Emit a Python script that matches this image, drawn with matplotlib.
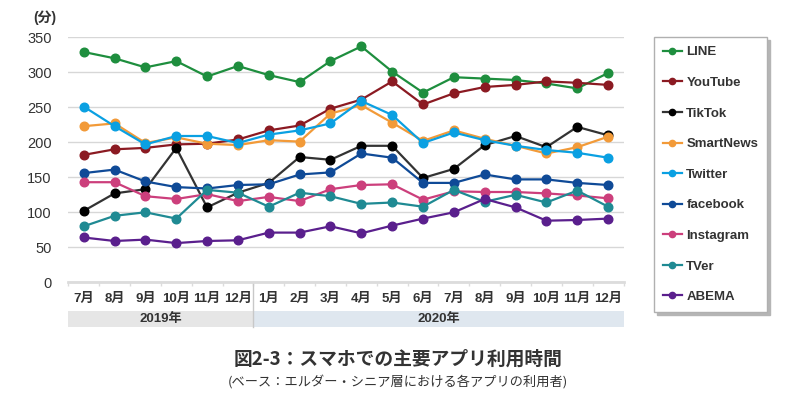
import matplotlib
matplotlib.use("Agg")
import matplotlib.pyplot as plt
import matplotlib.transforms as mtransforms
from matplotlib.patches import Rectangle
from matplotlib.lines import Line2D

plt.rcParams['font.family'] = ['Liberation Sans', 'Noto Sans CJK JP', 'DejaVu Sans']

months = ["7月", "8月", "9月", "10月", "11月", "12月", "1月", "2月", "3月", "4月", "5月", "6月",
          "7月", "8月", "9月", "10月", "11月", "12月"]
years = ["2019年", "2020年"]
year_spans = [(0, 5), (6, 17)]

line_app = [329, 320, 307, 316, 294, 309, 296, 286, 316, 337, 301, 271, 293, 291, 289, 284, 277, 299]
youtube = [182, 190, 192, 197, 198, 204, 217, 224, 248, 261, 287, 254, 270, 279, 282, 287, 285, 282]
tiktok = [102, 127, 133, 192, 107, 128, 142, 179, 175, 195, 195, 149, 162, 196, 209, 193, 222, 210]
smartnews = [223, 227, 199, 207, 198, 196, 203, 201, 241, 253, 228, 202, 217, 205, 195, 184, 193, 208]
twitter = [251, 223, 197, 209, 209, 199, 211, 217, 227, 259, 239, 199, 214, 203, 195, 189, 185, 178]
facebook = [156, 161, 144, 136, 134, 139, 140, 154, 157, 184, 178, 142, 142, 154, 147, 147, 142, 139]
instagram = [143, 143, 123, 119, 126, 116, 122, 116, 133, 139, 140, 118, 130, 129, 129, 127, 124, 120]
tver = [80, 95, 100, 91, 132, 128, 108, 128, 123, 112, 114, 108, 132, 115, 125, 114, 131, 108]
abema = [64, 59, 61, 56, 59, 60, 71, 71, 80, 70, 81, 91, 100, 119, 107, 88, 89, 91]

series = [
    ("LINE", line_app, "#1e8e3e"),
    ("YouTube", youtube, "#8b1a22"),
    ("TikTok", tiktok, "#333333"),
    ("SmartNews", smartnews, "#f29a38"),
    ("Twitter", twitter, "#0aa0e2"),
    ("facebook", facebook, "#0f4a97"),
    ("Instagram", instagram, "#cc3f7c"),
    ("TVer", tver, "#1f8a93"),
    ("ABEMA", abema, "#5a1f8d"),
]
marker_colors = {"TikTok": "#000000"}

W, H = 800, 415
fig = plt.figure(figsize=(W / 100, H / 100), dpi=100)
fig.patch.set_facecolor("white")

ax_l, ax_r = 68.3, 623.5
ax_t, ax_b = 37.3, 282.3
ax = fig.add_axes([ax_l / W, (H - ax_b) / H, (ax_r - ax_l) / W, (ax_b - ax_t) / H])
ax.set_xlim(-0.5, 17.5)
ax.set_ylim(0, 350)

x = list(range(len(months)))
handles = []
for name, vals, col in series:
    mc = marker_colors.get(name, col)
    ax.plot(x, vals, color=col, lw=1.6, marker="o", markersize=6.2,
            markerfacecolor=mc, markeredgecolor=mc, label=name, zorder=3, clip_on=False)
    handles.append(Line2D([0], [0], color=col, lw=1.6, marker="o", markersize=4.5,
                          markerfacecolor=mc, markeredgecolor=mc))

ax.set_yticks(range(0, 351, 50))
ax.yaxis.grid(True, color="#d7d7d7", lw=1.0)
ax.set_axisbelow(True)
for s in ["left", "right", "top"]:
    ax.spines[s].set_visible(False)
ax.spines["bottom"].set_color("#dcdcdc")
ax.spines["bottom"].set_linewidth(2.0)
ax.set_xticks([i - 0.5 for i in range(len(months) + 1)])
ax.set_xticklabels([])
ax.tick_params(axis="x", length=3, width=1, color="#dcdcdc", direction="out")
ax.tick_params(axis="y", length=0, pad=12, labelsize=10.5, labelcolor="#333333")
for lab in ax.get_yticklabels():
    lab.set_fontweight("medium")

trans = mtransforms.blended_transform_factory(ax.transData, fig.transFigure)
for i, m in enumerate(months):
    ax.text(i, (H - 299) / H, m, transform=trans, ha="center", va="center",
            fontsize=9.5, fontweight="bold", color="#333333")

band_top, band_bot = (H - 311) / H, (H - 327) / H
band_cols = ["#e6e6e6", "#dfe7ef"]
for (a, b), yl, c in zip(year_spans, years, band_cols):
    ax.add_patch(Rectangle((a - 0.5, band_bot), b - a + 1, band_top - band_bot, transform=trans,
                           facecolor=c, edgecolor="none", clip_on=False, zorder=1))
    ax.text((a + b) / 2, (band_top + band_bot) / 2, yl, transform=trans, ha="center", va="center",
            fontsize=9.5, fontweight="bold", color="#333333")
ax.add_line(Line2D([5.5, 5.5], [(H - ax_b) / H, band_bot], transform=trans, color="#c8c8c8",
                   lw=1.0, clip_on=False, zorder=2))

fig.text(45 / W, (H - 18) / H, "(分)", ha="center", va="center", fontsize=10,
         fontweight="bold", color="#333333")

fig.text(398 / W, (H - 359) / H, "図2-3：スマホでの主要アプリ利用時間", ha="center", va="center",
         fontsize=13.5, fontweight="bold", color="#333333",
         family=["Noto Sans CJK JP", "DejaVu Sans"])
fig.text(398 / W, (H - 383) / H, "(ベース：エルダー・シニア層における各アプリの利用者)", ha="center",
         va="center", fontsize=9.5, color="#333333", family=["Noto Sans CJK JP", "DejaVu Sans"])

leg = fig.legend(handles, [s[0] for s in series], loc="upper left",
                 bbox_to_anchor=(654 / W, (H - 37) / H), borderaxespad=0,
                 fontsize=9.5, handlelength=1.4, handletextpad=0.35, labelspacing=1.39,
                 borderpad=0.7, frameon=True, fancybox=False,
                 shadow={"color": "#b5b5b5", "alpha": 1.0})
leg.get_frame().set_edgecolor("#b0b0b0")
leg.get_frame().set_linewidth(1.0)
for t in leg.get_texts():
    t.set_fontweight("bold")
    t.set_color("#333333")

fig.savefig("out.png", dpi=100)
